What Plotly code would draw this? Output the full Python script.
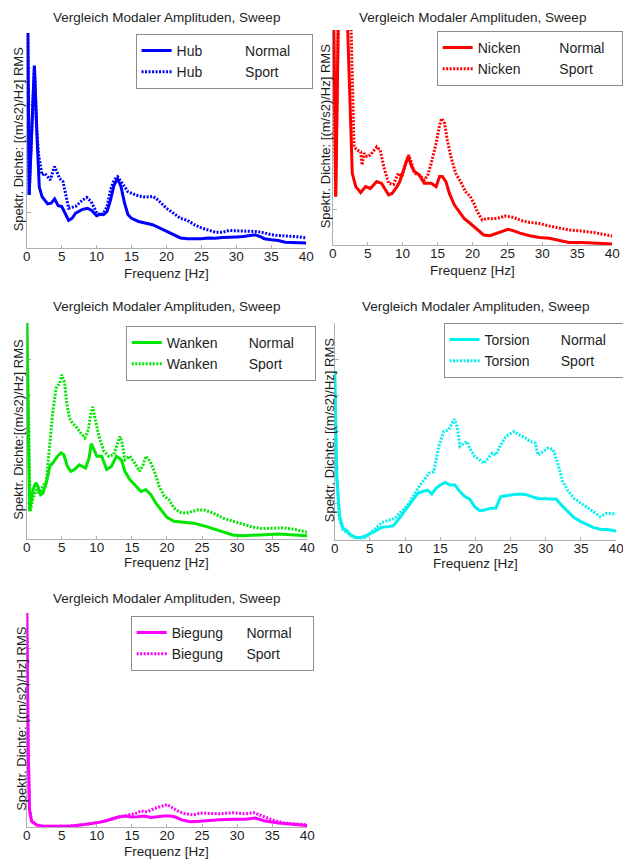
import plotly.graph_objects as go

# ---------------- data (frequency in Hz, spectral density in arbitrary units) -------------
TICK_F = [0, 5, 10, 15, 20, 25, 30, 35, 40]
TICK_LABELS = ["0", "5", "10", "15", "20", "25", "30", "35", "40"]

hub_normal_f = [0.0, 0.15, 0.35, 0.7, 1.1, 1.5, 1.8, 2.2, 3.0, 3.5, 4.0, 4.5, 5.0, 5.5, 6.0, 6.5, 7.0, 8.0, 8.7, 9.3,
                10.0, 10.5, 11.0, 11.5, 12.0, 12.5, 13.0, 13.5, 14.0, 14.5, 15.0, 16, 17, 18, 19, 20, 21, 22, 23, 24,
                25, 26, 27, 28, 29, 30, 31, 32, 32.7, 33.5, 34, 35, 36, 37, 38, 39, 40]
hub_normal_a = [6.3, 6.3, 1.48, 3.2, 5.09, 3.0, 1.7, 1.43, 1.23, 1.25, 1.37, 1.18, 1.16, 0.97, 0.77, 0.83, 0.97, 1.08, 1.11, 1.05,
                0.90, 0.94, 0.93, 1.02, 1.34, 1.76, 1.94, 1.71, 1.25, 0.93, 0.83, 0.74, 0.69, 0.65, 0.56, 0.46, 0.37, 0.28, 0.26, 0.25,
                0.26, 0.28, 0.27, 0.29, 0.29, 0.31, 0.32, 0.34, 0.37, 0.31, 0.26, 0.23, 0.21, 0.16, 0.16, 0.16, 0.14]
hub_sport_f = [0.0, 0.15, 0.35, 0.7, 1.1, 1.4, 1.7, 2.2, 2.6, 3.0, 3.4, 3.8, 4.0, 4.3, 4.7, 5.2, 5.7, 6.0, 7.0, 7.5, 8.0, 8.6,
               9.2, 9.7, 10.0, 10.5, 11.0, 11.5, 12.0, 12.5, 13.0, 13.5, 14.0, 14.5, 15.0, 16, 17, 18, 18.5, 19, 20, 21, 22,
               23, 24, 25, 26, 27, 28, 29, 30, 31, 32, 33, 34, 35, 36, 37, 38, 39, 40]
hub_sport_a = [6.3, 6.3, 1.48, 3.2, 5.09, 3.4, 2.6, 2.04, 2.08, 1.99, 1.90, 2.18, 2.27, 2.13, 1.94, 1.85, 1.44, 1.11, 1.16, 1.25, 1.34, 1.41,
               1.30, 1.11, 0.97, 0.93, 0.97, 1.16, 1.62, 1.90, 1.99, 1.85, 1.71, 1.57, 1.53, 1.45, 1.42, 1.44, 1.39, 1.30, 1.11, 0.97, 0.83,
               0.77, 0.65, 0.56, 0.51, 0.44, 0.44, 0.49, 0.48, 0.48, 0.48, 0.46, 0.42, 0.37, 0.35, 0.34, 0.32, 0.31, 0.28]

nicken_normal_f = [0.0, 0.15, 0.45, 0.8, 2.1, 2.8, 3.3, 4.0, 4.7, 5.4, 6.3, 7.0, 8.0, 8.5, 9.2, 9.6, 10.3, 10.8, 11.3, 11.7,
                   12.4, 13.1, 14.1, 14.8, 15.3, 15.7, 16.2, 16.7, 17.4, 18.1, 18.8, 19.7, 20.7, 21.6, 22.5, 23.5, 24.4,
                   25.1, 25.8, 26.8, 28.2, 29.6, 31.0, 32.4, 33.8, 35.7, 37.6, 40]
nicken_normal_a = [6.3, 6.3, 1.35, 6.3, 6.3, 2.0, 1.63, 1.46, 1.63, 1.58, 1.77, 1.72, 1.40, 1.44, 1.63, 1.77, 2.19, 2.47, 2.19, 2.05,
                   1.95, 1.72, 1.72, 1.63, 1.91, 1.91, 1.77, 1.44, 1.12, 0.93, 0.74, 0.60, 0.42, 0.28, 0.26, 0.33, 0.39,
                   0.44, 0.40, 0.33, 0.26, 0.21, 0.19, 0.14, 0.07, 0.07, 0.05, 0.03]
nicken_sport_f = [0.0, 0.1, 0.4, 0.8, 2.2, 2.6, 3.05, 3.5, 4.0, 4.2, 4.5, 4.9, 5.4, 5.9, 6.3, 6.8, 7.3, 8.0, 8.7, 9.4, 9.9,
                  10.6, 10.9, 11.3, 11.7, 12.4, 13.1, 13.6, 14.1, 14.8, 15.3, 15.6, 16.0, 16.4, 16.9, 17.6, 18.3, 19.0,
                  19.7, 20.2, 20.7, 21.4, 22.1, 23.0, 23.9, 24.6, 25.4, 26.3, 27.2, 28.2, 29.6, 31.0, 32.4, 33.8, 35.7,
                  37.6, 40]
nicken_sport_a = [6.3, 6.3, 1.35, 6.3, 6.3, 6.3, 2.74, 2.65, 2.60, 2.23, 2.56, 2.47, 2.51, 2.65, 2.74, 2.65, 2.19, 1.72, 1.69, 2.00, 1.91,
                  2.37, 2.51, 2.28, 2.00, 1.95, 1.81, 1.95, 2.28, 2.84, 3.35, 3.53, 3.40, 2.93, 2.47, 2.00, 1.77, 1.49,
                  1.35, 1.16, 0.93, 0.70, 0.74, 0.73, 0.76, 0.81, 0.79, 0.74, 0.67, 0.63, 0.60, 0.53, 0.47, 0.42, 0.39,
                  0.34, 0.25]

wanken_normal_f = [0.0, 0.4, 0.9, 1.3, 1.6, 2.0, 2.3, 2.8, 3.3, 3.7, 4.4, 4.9, 5.3, 5.8, 6.3, 6.8, 7.5, 7.9, 8.4, 8.9, 9.2,
                   9.6, 10.0, 10.7, 11.4, 12.1, 12.8, 13.5, 14.0, 14.7, 15.4, 16.3, 17.0, 17.7, 18.4, 19.1, 20.0, 21.0,
                   22.4, 23.8, 25.2, 26.6, 28.0, 29.4, 30.8, 32.6, 34.0, 35.9, 37.8, 40]
wanken_normal_a = [6.3, 0.77, 1.37, 1.56, 1.46, 1.23, 1.27, 1.56, 2.02, 2.11, 2.30, 2.39, 2.34, 2.02, 1.88, 1.93, 2.06, 2.02, 1.97, 2.25, 2.65,
                   2.48, 2.30, 2.30, 1.93, 2.02, 2.30, 2.20, 1.88, 1.65, 1.51, 1.32, 1.37, 1.23, 1.00, 0.81, 0.60, 0.49,
                   0.46, 0.44, 0.37, 0.28, 0.19, 0.11, 0.09, 0.10, 0.12, 0.14, 0.12, 0.09]
wanken_sport_f = [0.0, 0.5, 0.9, 1.4, 1.9, 2.3, 2.8, 3.3, 3.7, 4.2, 4.7, 5.0, 5.4, 5.7, 6.1, 6.5, 7.0, 7.7, 8.3, 8.8, 9.1,
                  9.4, 9.8, 10.3, 11.0, 11.7, 12.4, 12.8, 13.3, 13.6, 14.0, 14.7, 15.4, 16.1, 16.6, 17.0, 17.6, 18.2, 18.9,
                  19.6, 20.3, 21.0, 21.9, 22.8, 23.8, 24.5, 25.4, 26.6, 28.0, 29.4, 30.8, 32.2, 33.6, 35.0, 36.4, 37.8, 40]
wanken_sport_a = [6.3, 0.77, 1.14, 1.37, 1.23, 1.46, 1.60, 2.57, 3.50, 4.19, 4.33, 4.56, 4.35, 3.78, 3.36, 3.22, 3.13, 2.94, 2.81, 3.04, 3.45,
                  3.67, 3.31, 2.85, 2.44, 2.30, 2.34, 2.57, 2.85, 2.67, 2.20, 2.30, 2.11, 1.88, 2.06, 2.30, 2.16, 1.88, 1.46,
                  1.19, 1.09, 0.86, 0.74, 0.72, 0.77, 0.81, 0.80, 0.72, 0.58, 0.49, 0.40, 0.33, 0.29, 0.29, 0.31, 0.28, 0.19]

torsion_normal_f = [0.0, 0.3, 0.7, 1.2, 1.6, 2.3, 3.0, 3.7, 4.4, 5.1, 5.8, 6.7, 7.6, 8.3, 9.0, 9.7, 10.4, 11.1, 11.8, 12.5,
                    13.2, 13.8, 14.4, 15.0, 15.7, 16.4, 17.1, 17.8, 18.5, 19.2, 19.9, 20.6, 21.3, 22.2, 22.9, 23.6, 24.3,
                    25.2, 26.2, 27.1, 28.0, 28.9, 29.9, 30.8, 31.5, 32.2, 33.1, 34.0, 35.0, 35.9, 36.8, 37.7, 38.7, 40]
torsion_normal_a = [4.66, 1.75, 0.65, 0.32, 0.28, 0.14, 0.07, 0.07, 0.11, 0.18, 0.25, 0.35, 0.37, 0.39, 0.55, 0.74, 0.92, 1.11, 1.29, 1.34,
                    1.38, 1.27, 1.43, 1.52, 1.59, 1.52, 1.52, 1.34, 1.20, 1.13, 0.92, 0.81, 0.83, 0.88, 0.88, 1.20, 1.23,
                    1.25, 1.27, 1.26, 1.20, 1.15, 1.14, 1.13, 1.13, 0.97, 0.78, 0.62, 0.51, 0.43, 0.34, 0.30, 0.29, 0.25]
torsion_sport_f = [0.0, 0.3, 0.7, 1.2, 1.9, 2.5, 3.5, 4.4, 5.1, 5.8, 6.7, 7.6, 8.6, 9.3, 10.0, 10.6, 11.3, 12.0, 12.7, 13.4,
                   14.1, 14.8, 15.5, 16.2, 16.7, 17.0, 17.4, 17.8, 18.3, 18.8, 19.2, 19.9, 20.6, 21.2, 21.8, 22.4, 22.9,
                   23.6, 24.3, 25.0, 25.5, 26.2, 27.1, 27.8, 28.5, 28.9, 29.6, 30.3, 31.0, 31.7, 32.4, 33.1, 34.0, 35.0,
                   35.9, 36.8, 37.7, 38.7, 40]
torsion_sport_a = [4.66, 1.75, 0.55, 0.28, 0.18, 0.09, 0.05, 0.07, 0.20, 0.32, 0.48, 0.54, 0.60, 0.76, 0.88, 1.02, 1.25, 1.48, 1.66, 1.85,
                   1.89, 2.59, 3.00, 3.05, 3.23, 3.34, 3.14, 2.59, 2.66, 2.72, 2.54, 2.31, 2.22, 2.12, 2.26, 2.40, 2.35,
                   2.63, 2.86, 2.95, 3.00, 2.91, 2.82, 2.72, 2.68, 2.35, 2.44, 2.54, 2.51, 2.12, 1.62, 1.38, 1.15, 1.02,
                   0.92, 0.78, 0.65, 0.74, 0.72]

biegung_normal_f = [0.0, 0.2, 0.4, 0.7, 1.4, 2.3, 3.7, 6.1, 7.9, 9.3, 10.3, 11.2, 12.1, 13.1, 14.0, 14.9, 15.8, 16.8, 17.7,
                    18.6, 19.6, 20.5, 21.2, 22.1, 23.3, 24.7, 26.1, 27.5, 29.4, 31.2, 32.6, 34.0, 35.9, 37.8, 40]
biegung_normal_a = [6.3, 2.3, 0.48, 0.16, 0.06, 0.02, 0.02, 0.02, 0.06, 0.09, 0.13, 0.17, 0.23, 0.28, 0.31, 0.28, 0.29, 0.31, 0.27,
                    0.29, 0.31, 0.31, 0.28, 0.20, 0.15, 0.16, 0.17, 0.20, 0.22, 0.22, 0.25, 0.17, 0.11, 0.07, 0.04]
biegung_sport_f = [0.0, 0.2, 0.4, 0.7, 1.4, 2.3, 3.7, 6.1, 7.9, 9.3, 10.3, 11.2, 12.1, 13.1, 14.0, 14.5, 15.4, 16.3, 17.2,
                   18.2, 19.1, 20.0, 20.7, 21.7, 22.6, 23.8, 24.7, 26.1, 27.5, 29.4, 31.2, 32.4, 33.6, 35.0, 36.8, 38.7, 40]
biegung_sport_a = [6.3, 2.3, 0.48, 0.16, 0.06, 0.02, 0.02, 0.02, 0.06, 0.09, 0.13, 0.17, 0.23, 0.28, 0.31, 0.34, 0.37, 0.45, 0.43,
                   0.52, 0.57, 0.63, 0.55, 0.43, 0.37, 0.34, 0.39, 0.37, 0.37, 0.40, 0.37, 0.40, 0.31, 0.20, 0.11, 0.09, 0.06]

# ---------------- layout helpers ----------------
PAGE_W, PAGE_H = 631, 859
OFF = 8                      # default page margin around the plot div
W, H = PAGE_W - OFF, PAGE_H - OFF
FONT = "Liberation Sans, Arial, sans-serif"
TXT = "#1e1e1e"
AXC = "#b0b0b0"
NB = "&nbsp;"


def px(x):
    return (x - OFF) / W


def py(y):
    return 1 - (y - OFF) / H


panels = [
    dict(name="Hub", color="#0000ff", n=(hub_normal_f, hub_normal_a), s=(hub_sport_f, hub_sport_a),
         box=(23, 308, 33, 248), leg=(134, 34), pad=11, tail=4, ytitle="Spektr. Dichte: [(m/s2)/Hz] RMS",
         ty=17, xty=273, ytx=15),
    dict(name="Nicken", color="#ff0000", n=(nicken_normal_f, nicken_normal_a), s=(nicken_sport_f, nicken_sport_a),
         box=(335, 620, 30, 245), leg=(441, 31), pad=10, tail=3, ytitle="Spektr. Dichte: [(m/s2)/Hz] RMS",
         ty=None, xty=270, ytx=328),
    dict(name="Wanken", color="#00e600", n=(wanken_normal_f, wanken_normal_a), s=(wanken_sport_f, wanken_sport_a),
         box=(23, 309, 323, 539), leg=(124, 326), pad=8, tail=4, ytitle="Spektr. Dichte:[(m/s2)/Hz] RMS",
         ty=307, xty=562, ytx=15),
    dict(name="Torsion", color="#00f0f0", n=(torsion_normal_f, torsion_normal_a), s=(torsion_sport_f, torsion_sport_a),
         box=(337, 624, 323, 540), leg=(448, 323), pad=8, tail=4, ytitle="Spektr. Dichte: [(m/s2)/Hz] RMS",
         ty=307, xty=563, ytx=332),
    dict(name="Biegung", color="#ff00ff", n=(biegung_normal_f, biegung_normal_a), s=(biegung_sport_f, biegung_sport_a),
         box=(23, 309, 613, 827), leg=(129, 616), pad=6, tail=4, ytitle="Spektr. Dichte: [(m/s2)/Hz] RMS",
         ty=598, xty=851, ytx=17),
]

fig = go.Figure()
annotations = []
layout_extra = {}

for i, p in enumerate(panels, start=1):
    sfx = "" if i == 1 else str(i)
    xa, ya = f"x{sfx}", f"y{sfx}"
    legname = "legend" if i == 1 else f"legend{i}"
    l, r, t, b = p["box"]
    label = p["name"] + NB * p["pad"]
    tail = NB * p["tail"]
    fig.add_trace(go.Scatter(x=p["n"][0], y=p["n"][1], mode="lines", xaxis=xa, yaxis=ya,
                             name=label + "Normal" + tail, legend=legname,
                             line=dict(color=p["color"], width=3)))
    fig.add_trace(go.Scatter(x=p["s"][0], y=p["s"][1], mode="lines", xaxis=xa, yaxis=ya,
                             name=label + "Sport" + tail, legend=legname,
                             line=dict(color=p["color"], width=3, dash="2px,1.5px")))

    layout_extra[f"xaxis{sfx}"] = dict(
        domain=[px(l), px(r)], anchor=ya, range=[0, 40], tickvals=TICK_F, ticktext=TICK_LABELS,
        showline=True, linecolor=AXC, linewidth=1, showgrid=False, zeroline=False,
        ticks="inside", ticklen=3, tickcolor=AXC, layer="below traces", ticklabelstandoff=-4,
        tickfont=dict(family=FONT, size=13.5, color=TXT))
    layout_extra[f"yaxis{sfx}"] = dict(
        domain=[py(b), py(t)], anchor=xa, range=[0, 6], dtick=1, showticklabels=False,
        showline=True, linecolor=AXC, linewidth=1, showgrid=False, zeroline=False,
        ticks="inside", ticklen=4, tickcolor=AXC, layer="below traces")
    layout_extra[legname] = dict(
        x=px(p["leg"][0]), y=py(p["leg"][1]), xanchor="left", yanchor="top",
        bgcolor="white", bordercolor="#8c8c8c", borderwidth=1,
        font=dict(family=FONT, size=14, color=TXT), tracegroupgap=0)

    cx = (l + r) / 2
    if p["ty"] is None:
        title_pos = dict(y=1.0, yanchor="top")
    else:
        title_pos = dict(y=py(p["ty"]), yanchor="middle")
    annotations.append(dict(text="Vergleich Modaler Amplituden, Sweep", x=px(cx),
                            xref="paper", yref="paper", showarrow=False, xanchor="center",
                            font=dict(family=FONT, size=13.5, color=TXT), **title_pos))
    annotations.append(dict(text="Frequenz [Hz]", x=px(cx), y=py(p["xty"]), borderpad=0,
                            xref="paper", yref="paper", showarrow=False, xanchor="center", yanchor="middle",
                            font=dict(family=FONT, size=13.5, color=TXT)))
    annotations.append(dict(text=p["ytitle"], x=px(p["ytx"]), y=py((t + b) / 2 - 2),
                            xref="paper", yref="paper", showarrow=False, xanchor="center", yanchor="middle",
                            textangle=-90, font=dict(family=FONT, size=13, color=TXT)))

fig.update_layout(
    width=W, height=H, margin=dict(l=0, r=0, t=0, b=0),
    paper_bgcolor="white", plot_bgcolor="white",
    showlegend=True, annotations=annotations, **layout_extra)

fig.write_html("out.html")
